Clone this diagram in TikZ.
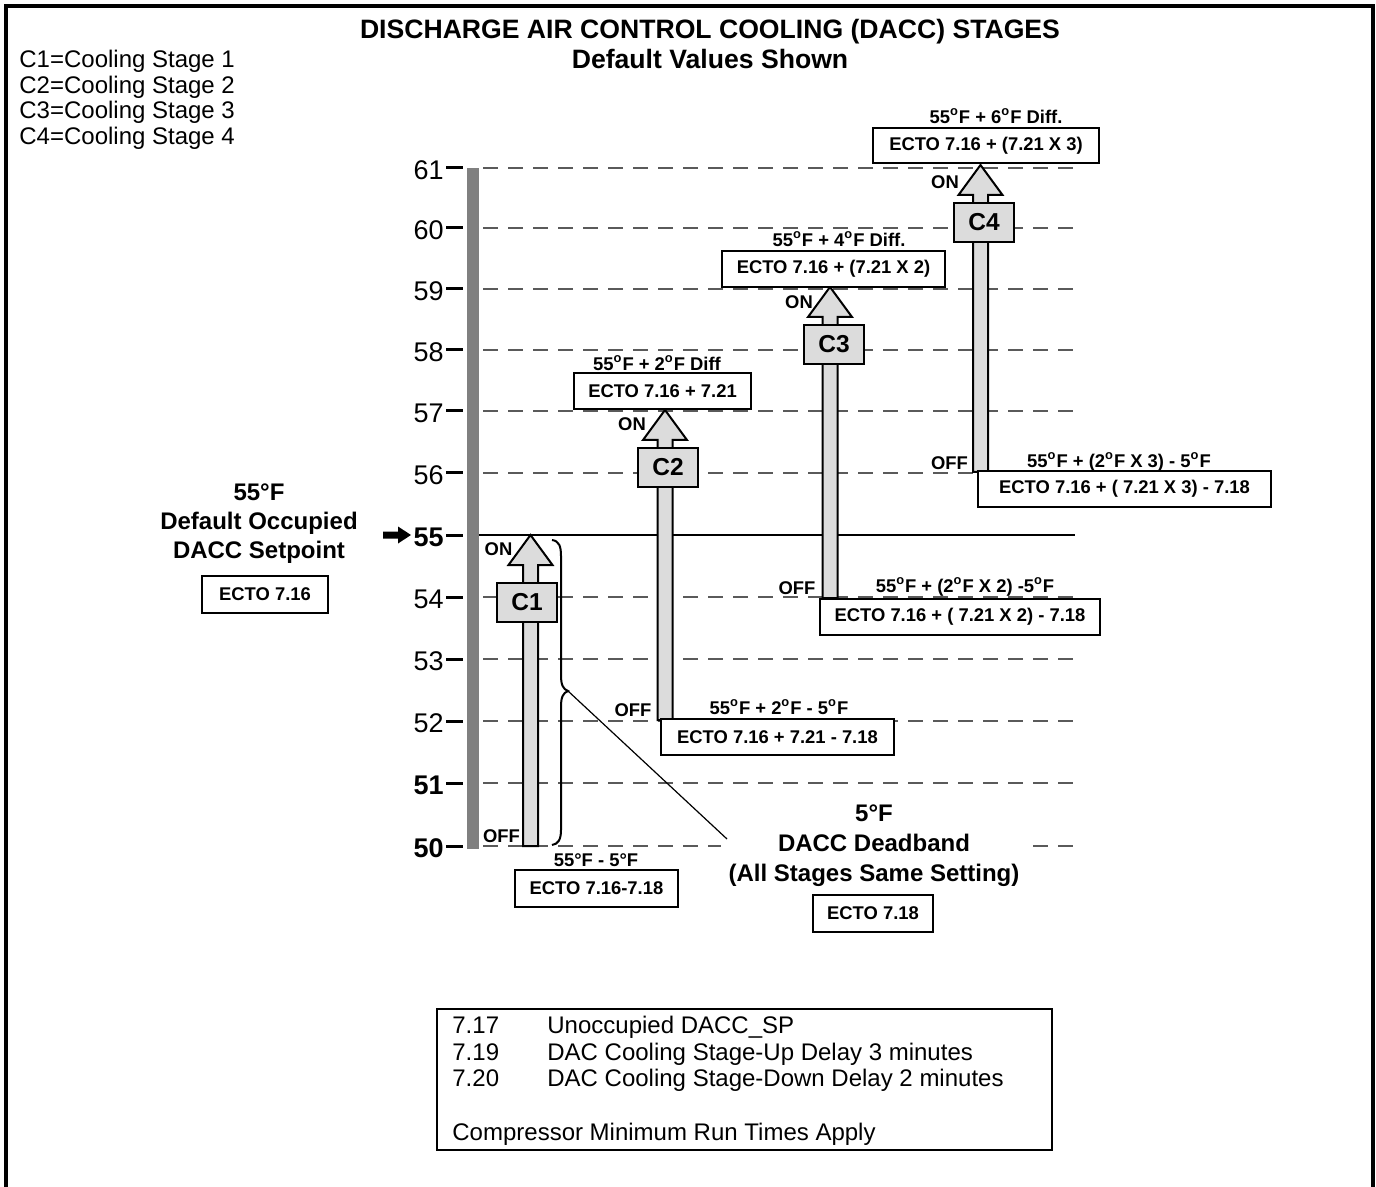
\documentclass[tikz,border=0pt]{standalone}
\usepackage{fontspec}
\setmainfont{Liberation Sans}
\definecolor{shaft}{HTML}{DCDCDC}
\definecolor{bargray}{HTML}{808080}
\definecolor{gridgray}{HTML}{5A5A5A}
\newcommand\fsA{\fontsize{9.2}{11}\selectfont}
\newcommand\fsL{\fontsize{12}{13}\selectfont}
\newcommand\fsC{\fontsize{12.25}{14}\selectfont}
\newcommand\fsN{\fontsize{13.5}{15}\selectfont}
\newcommand\fsT{\fontsize{13.3}{14}\selectfont}
\newcommand\dg{\textsuperscript{o}}
\newcommand\stagearrow[4]{%
  \draw[shaftshape] (#2-7.5,#4) -- (#2-7.5,#3+30) -- (#2-22,#3+30) -- (#2,#3)
    -- (#2+22,#3+30) -- (#2+7.5,#3+30) -- (#2+7.5,#4) -- cycle;
  \coordinate (#1) at (#2,#3);}
\begin{document}
\begin{tikzpicture}[x=0.5pt,y=-0.5pt,
  ectobox/.style={draw,line width=1pt,fill=white,inner sep=0pt,font=\bfseries\fsA},
  stagebox/.style={draw,line width=1pt,fill=shaft,inner sep=0pt,minimum width=30pt,minimum height=19.5pt,font=\bfseries\fsC},
  lbl/.style={inner sep=0pt,font=\bfseries\fsA},
  gridline/.style={draw=gridgray,line width=0.6pt,dash pattern=on 7.5pt off 5pt},
  tickmark/.style={line width=1.5pt},
  ticklbl/.style={anchor=east,inner sep=0pt,font=\fsN},
  shaftshape/.style={draw,line width=1pt,fill=shaft,line join=miter},
  legtext/.style={anchor=base west,inner sep=0pt,font=\fsL},
]
\useasboundingbox (0,0) rectangle (1376,1187);
\fill[white] (0,0) rectangle (1376,1187);
% frame
\draw[line width=2pt] (6,1187) -- (6,6) -- (1373,6) -- (1373,1187);
% title
\node[font=\bfseries\fsT,inner sep=0pt] (title) at (710,32) {DISCHARGE AIR CONTROL COOLING (DACC) STAGES};
\node[font=\bfseries\fsT,inner sep=0pt] (subtitle) at (710,59) {Default Values Shown};
% top-left legend
\node[legtext] (k1) at (19,68) {C1=Cooling Stage 1};
\node[legtext] (k2) at (19,93.5) {C2=Cooling Stage 2};
\node[legtext] (k3) at (19,119) {C3=Cooling Stage 3};
\node[legtext] (k4) at (19,144.5) {C4=Cooling Stage 4};
% grid lines
\foreach \v/\yy in {61/168,60/228,59/289,58/350,57/411,56/473,54/597,53/659,52/721,51/783,50/846}
  \draw[gridline] (483,\yy) -- (1075,\yy);
\draw[line width=1pt] (478,535) -- (1075,535);
% axis bar, ticks, labels
\fill[bargray] (467,168) rectangle (479,849);
\foreach \v/\yy in {61/168,60/228,59/289,58/350,57/411,56/473,55/535,54/597,53/659,52/721,51/783,50/846}
  \draw[tickmark] (446,\yy) -- (463,\yy);
\foreach \v/\yy in {61/168,60/228,59/289,58/350,57/411,56/473,54/597,53/659,52/721}
  \node[ticklbl] (n\v) at (444,\yy+2) {\v};
\foreach \v/\yy in {55/535,51/783,50/846}
  \node[ticklbl,font=\bfseries\fsN] (n\v) at (444,\yy+2) {\v};
% setpoint pointer
\fill (383,531.5) -- (398,531.5) -- (398,526.5) -- (411,535) -- (398,543.5) -- (398,538.5) -- (383,538.5) -- cycle;
% setpoint label
\node[align=center,inner sep=0pt,font=\bfseries\fsL,execute at begin node=\setlength{\baselineskip}{14.5pt}] (sp) at (259,524) {55°F\\Default Occupied\\DACC Setpoint};
\node[ectobox,minimum width=63pt,minimum height=18.5pt] (spbox) at (265,594.5) {ECTO 7.16};
% stage arrows
\stagearrow{a1}{530.5}{535}{846}
\stagearrow{a2}{665}{410}{720}
\stagearrow{a3}{830}{287}{598}
\stagearrow{a4}{980.5}{165}{472}
\node[stagebox] (c1) at (527,602.5) {C1};
\node[stagebox] (c2) at (668,467.5) {C2};
\node[stagebox] (c3) at (834,344.5) {C3};
\node[stagebox] (c4) at (984,222.5) {C4};
% ON / OFF
\node[lbl] (on1) at (498.5,549) {ON};
\node[lbl] (off1) at (501.5,836.5) {OFF};
\node[lbl] (on2) at (632,424) {ON};
\node[lbl] (off2) at (633,710) {OFF};
\node[lbl] (on3) at (799,302) {ON};
\node[lbl] (off3) at (797,588) {OFF};
\node[lbl] (on4) at (945,182) {ON};
\node[lbl] (off4) at (949.5,463) {OFF};
% ON boxes
\node[lbl] (d2) at (657,363) {55\dg F + 2\dg F Diff};
\node[ectobox,minimum width=88.5pt,minimum height=18pt] (b2on) at (662.5,391) {ECTO 7.16 + 7.21};
\node[lbl] (d3) at (839,239) {55\dg F + 4\dg F Diff.};
\node[ectobox,minimum width=111.5pt,minimum height=18pt] (b3on) at (833.5,269) {ECTO 7.16 + (7.21 X 2)};
\node[lbl] (d4) at (996,116) {55\dg F + 6\dg F Diff.};
\node[ectobox,minimum width=113pt,minimum height=17.5pt] (b4on) at (986,145.5) {ECTO 7.16 + (7.21 X 3)};
% OFF boxes
\node[lbl] (e1) at (596,860) {55°F - 5°F};
\node[ectobox,minimum width=81.5pt,minimum height=18.5pt] (b1off) at (596.5,888.5) {ECTO 7.16-7.18};
\node[lbl] (e2) at (779,707) {55\dg F + 2\dg F - 5\dg F};
\node[ectobox,minimum width=116.5pt,minimum height=18pt] (b2off) at (777.5,737) {ECTO 7.16 + 7.21 - 7.18};
\node[lbl] (e3) at (965,587) {55\dg F + (2\dg F X 2) -5\dg F};
\node[ectobox,minimum width=140pt,minimum height=18pt] (b3off) at (960,617) {ECTO 7.16 + ( 7.21 X 2) - 7.18};
\node[lbl] (e4) at (1119,462) {55\dg F + (2\dg F X 3) - 5\dg F};
\node[ectobox,minimum width=146.5pt,minimum height=18pt] (b4off) at (1124.5,489) {ECTO 7.16 + ( 7.21 X 3) - 7.18};
% deadband
\node[align=center,fill=white,inner xsep=4pt,inner ysep=2pt,font=\bfseries\fsL,execute at begin node=\setlength{\baselineskip}{15pt}] (db) at (874,846) {5°F\\DACC Deadband\\(All Stages Same Setting)};
\node[ectobox,minimum width=60pt,minimum height=18.5pt] (dbbox) at (873,913.5) {ECTO 7.18};
% brace
\coordinate (bracetip) at (568,691);
\coordinate (dbend) at (727,839);
\draw[line width=1pt] (552,540) .. controls (559,541) and (561,546) .. (561,556) -- (561,675)
  .. controls (561,685) and (563,689) .. (bracetip)
  .. controls (563,693) and (561,697) .. (561,707) -- (561,830)
  .. controls (561,840) and (558,844) .. (552,845);
\draw[line width=0.6pt] (bracetip) -- (dbend);
% bottom legend
\node[draw,line width=0.75pt,minimum width=307.5pt,minimum height=70.5pt,inner sep=0pt] (legend) at (744.5,1079.5) {};
\node[legtext] (g1a) at (452,1033.5) {7.17};
\node[legtext] (g1b) at (547,1033.5) {Unoccupied DACC\_SP};
\node[legtext] (g2a) at (452,1060) {7.19};
\node[legtext] (g2b) at (547,1060) {DAC Cooling Stage-Up Delay 3 minutes};
\node[legtext] (g3a) at (452,1086.5) {7.20};
\node[legtext] (g3b) at (547,1086.5) {DAC Cooling Stage-Down Delay 2 minutes};
\node[legtext] (g4) at (452,1140.5) {Compressor Minimum Run Times Apply};
\end{tikzpicture}
\end{document}
